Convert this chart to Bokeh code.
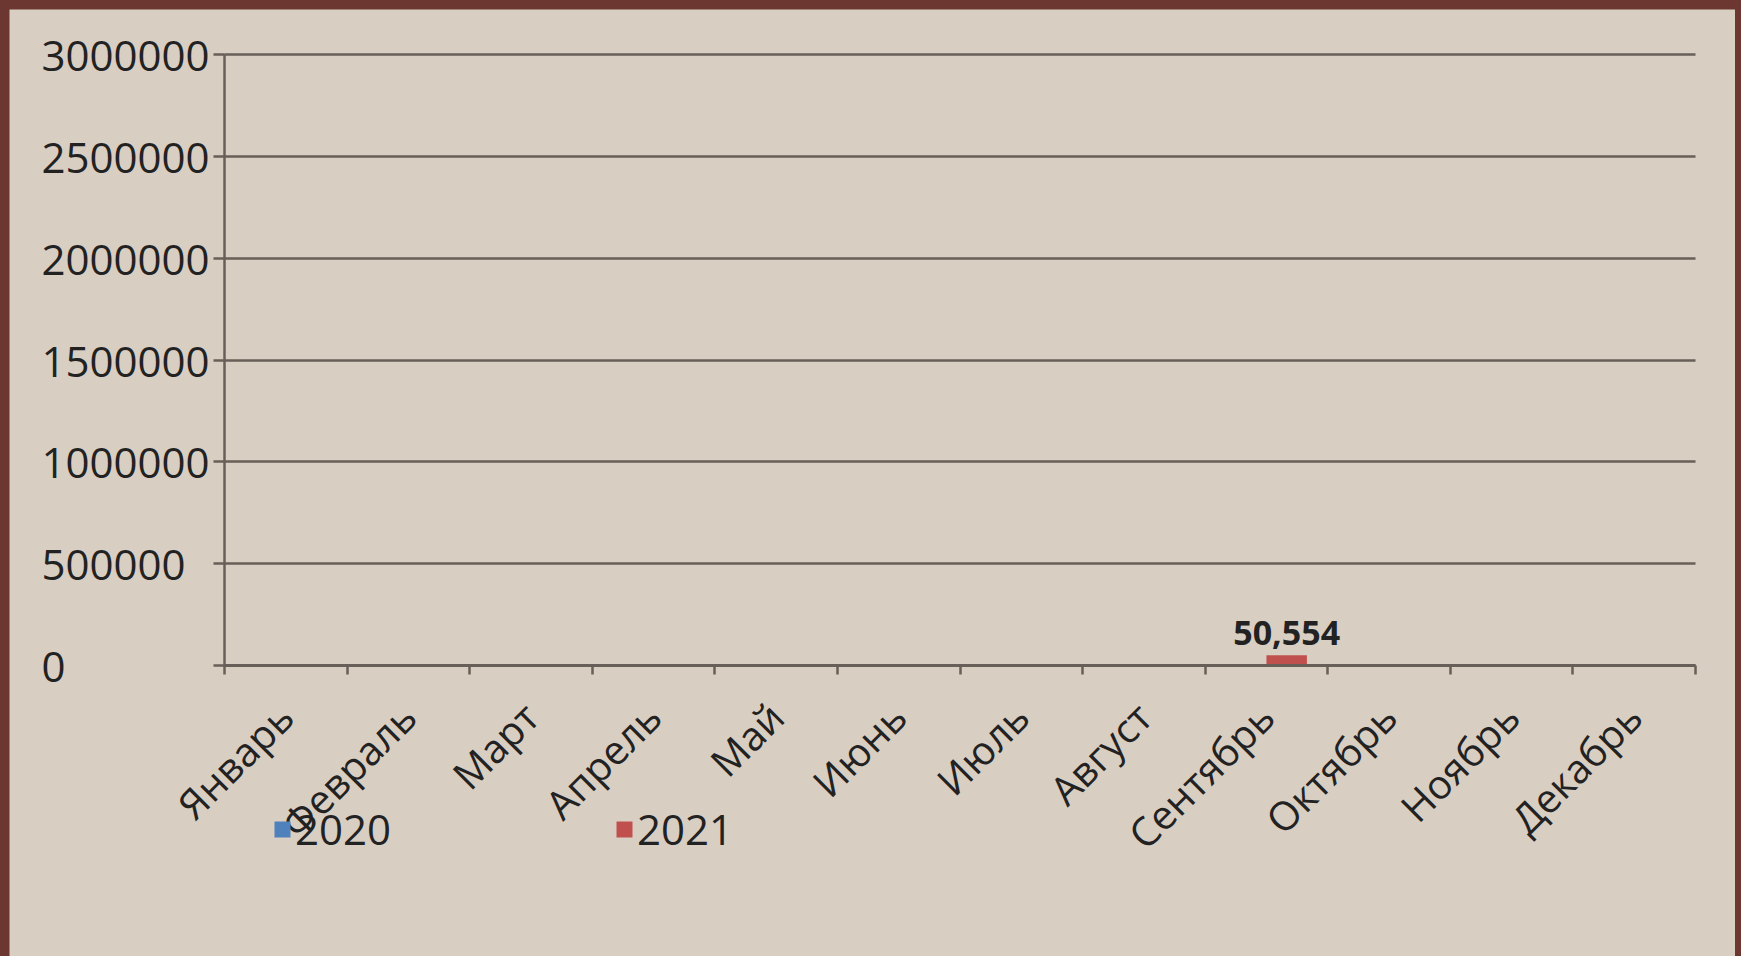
import math
from bokeh.plotting import figure
from bokeh.models import (FixedTicker, Legend, LegendItem, ColumnDataSource,
                          GlobalInlineStyleSheet, Grid)
from bokeh.core.properties import value
from bokeh.embed import file_html
from bokeh.resources import INLINE

# ---- data ----
months = ["Январь", "Февраль", "Март", "Апрель", "Май", "Июнь",
          "Июль", "Август", "Сентябрь", "Октябрь", "Ноябрь", "Декабрь"]
values_2020 = [0, 0, 0, 0, 0, 0, 0, 0, 0, 0, 0, 0]
values_2021 = [0, 0, 0, 0, 0, 0, 0, 0, 50554, 0, 0, 0]
series_names = ["2020", "2021"]
y_ticks = [0, 500000, 1000000, 1500000, 2000000, 2500000, 3000000]

# ---- styles / layout ----
BG = "#d9cec2"
FRAME_BG = "#6d3731"
GRID = "#675f58"
TXT = "#222222"
C2020 = "#4f81bd"
C2021 = "#c0504d"
FONT = "Open Sans"
BAR_W = 0.33

W, H = 1726, 947
TOP_PX = 45                           # pixel row of the top value line
AX_LEFT_PX, AX_RIGHT_PX = 215, 1686   # pixel columns of value-axis and plot end
PLOT_H = 611                          # pixel height of the 0..max value band

n = len(months)
px_per_cat = (AX_RIGHT_PX - AX_LEFT_PX) / n
x_lo = -AX_LEFT_PX / px_per_cat
x_hi = n + (W - AX_RIGHT_PX) / px_per_cat
centers = [i + 0.5 for i in range(n)]
x2020 = [c - BAR_W / 2 for c in centers]
x2021 = [c + BAR_W / 2 for c in centers]
y_top = y_ticks[-1]
val_per_px = y_top / PLOT_H
y_hi = y_top + TOP_PX * val_per_px
y_low = -(H - TOP_PX - PLOT_H) * val_per_px

p = figure(width=W, height=H, x_range=(x_lo, x_hi), y_range=(y_low, y_hi),
           output_backend="svg", toolbar_location=None,
           background_fill_color=BG, border_fill_color=BG,
           outline_line_color=None,
           min_border_left=0, min_border_right=0,
           min_border_top=0, min_border_bottom=0)
p.stylesheets = [GlobalInlineStyleSheet(css="body{background:%s;}" % FRAME_BG)]
p.styles = {"margin-left": "9px", "margin-top": "9px"}

src20 = ColumnDataSource(dict(x=x2020, top=values_2020))
src21 = ColumnDataSource(dict(x=x2021, top=values_2021))
r20 = p.vbar(x="x", top="top", bottom=0, width=BAR_W, source=src20,
             fill_color=C2020, line_color=None)
r21 = p.vbar(x="x", top="top", bottom=0, width=BAR_W, source=src21,
             fill_color=C2021, line_color=None)

# data label for non-zero values
lx = [x for x, v in zip(x2021, values_2021) if v]
ly = [v for v in values_2021 if v]
lt = ["{:,}".format(v) for v in ly]
p.text(x=lx, y=ly, text=lt, text_align="center", text_baseline="bottom",
       y_offset=-10, text_font=value(FONT), text_font_size="34px",
       text_font_style="bold", text_color=TXT)

# y axis, drawn at x = 0 inside the frame
ya = p.yaxis[0]
ya.fixed_location = 0
ya.ticker = FixedTicker(ticks=y_ticks)
ya.bounds = (0, y_top)
maxlen = max(len(str(v)) for v in y_ticks)
ya.major_label_overrides = {v: str(v) + "\u2007" * (maxlen - len(str(v))) for v in y_ticks}
ya.axis_line_color = GRID
ya.axis_line_width = 2.5
ya.major_tick_line_color = GRID
ya.major_tick_line_width = 2.5
ya.major_tick_out = 11
ya.major_tick_in = 0
ya.minor_tick_line_color = None
ya.major_label_standoff = 4
ya.major_label_text_font = FONT
ya.major_label_text_font_size = "42px"
ya.major_label_text_color = TXT

# x axis, drawn at value 0 inside the frame
xa = p.xaxis[0]
xa.fixed_location = 0
xa.bounds = (0, n)
xa.ticker = FixedTicker(ticks=centers, minor_ticks=list(range(n + 1)))
xa.major_label_overrides = {c: m for c, m in zip(centers, months)}
xa.axis_line_color = GRID
xa.axis_line_width = 3
xa.major_tick_line_color = None
xa.minor_tick_line_color = GRID
xa.minor_tick_line_width = 2.5
xa.minor_tick_out = 9
xa.minor_tick_in = 0
xa.major_label_orientation = math.pi / 4
xa.major_label_standoff = 35
xa.major_label_text_font = FONT
xa.major_label_text_font_size = "40px"
xa.major_label_text_color = TXT

# grid: horizontal lines only, spanning the category band
p.xgrid.visible = False
p.ygrid.grid_line_color = GRID
p.ygrid.grid_line_width = 2.5
if "cross_bounds" in Grid.properties():
    p.ygrid.cross_bounds = (0, n)
else:
    p.ygrid.visible = False
    p.segment(x0=0, x1=n, y0=y_ticks, y1=y_ticks, line_color=GRID, line_width=2.5)

# legends (two single-item legends)
for name, rend, loc in [(series_names[0], r20, (AX_LEFT_PX + 48, 99)),
                        (series_names[1], r21, (AX_LEFT_PX + 390, 99))]:
    lg = Legend(items=[LegendItem(label=name, renderers=[rend])],
                location=loc, orientation="horizontal",
                padding=0, margin=0, spacing=0, label_standoff=3,
                glyph_width=20, glyph_height=20,
                background_fill_alpha=0, border_line_color=None,
                label_text_font=FONT, label_text_font_size="42px",
                label_text_color=TXT)
    p.add_layout(lg, "center")

open("out.html", "w").write(file_html(p, INLINE))
